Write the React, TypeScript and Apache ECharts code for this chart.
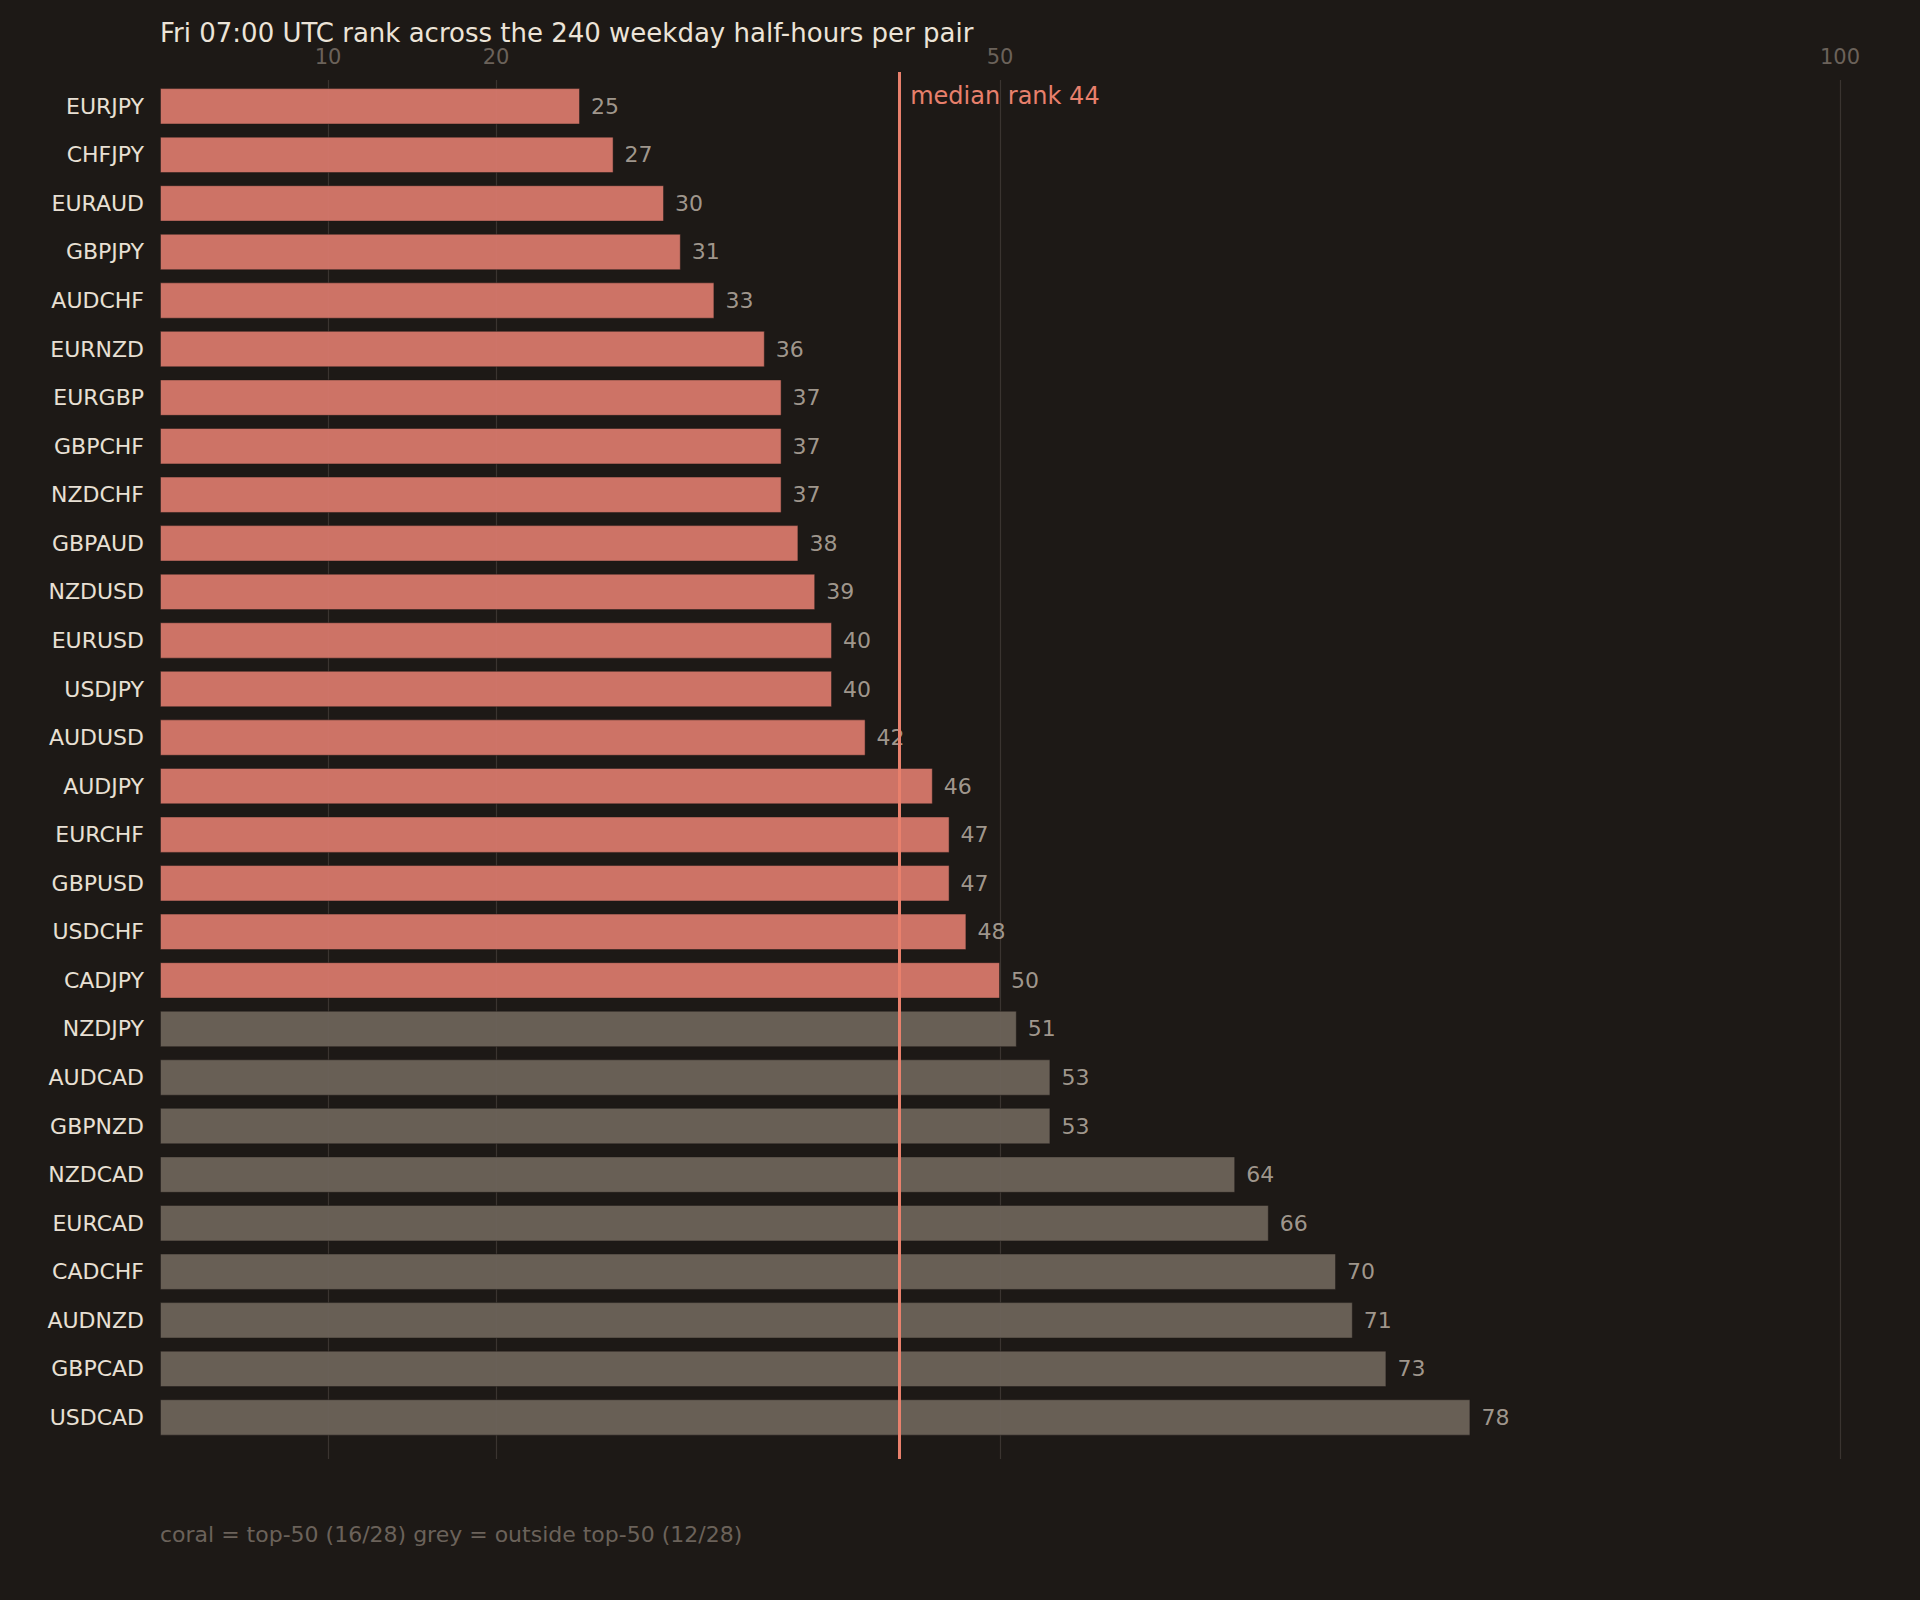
import React, { useEffect, useRef } from "react";
import * as echarts from "echarts";

const pairs = [
  "EURJPY", "CHFJPY", "EURAUD", "GBPJPY", "AUDCHF", "EURNZD", "EURGBP",
  "GBPCHF", "NZDCHF", "GBPAUD", "NZDUSD", "EURUSD", "USDJPY", "AUDUSD",
  "AUDJPY", "EURCHF", "GBPUSD", "USDCHF", "CADJPY", "NZDJPY", "AUDCAD",
  "GBPNZD", "NZDCAD", "EURCAD", "CADCHF", "AUDNZD", "GBPCAD", "USDCAD",
];
const ranks = [
  25, 27, 30, 31, 33, 36, 37, 37, 37, 38, 39, 40, 40, 42,
  46, 47, 47, 48, 50, 51, 53, 53, 64, 66, 70, 71, 73, 78,
];
const topN = 50;
const medianRank = 44;
const tickValues = [10, 20, 50, 100];
const titleText = "Fri 07:00 UTC rank across the 240 weekday half-hours per pair";
const footerText = "coral = top-50 (16/28) grey = outside top-50 (12/28)";

const BG = "#1d1916";
const CORAL = "#d4776a";
const GREY = "#6b6258";
const FONT = "DejaVu Sans";

export default function App() {
  const ref = useRef<HTMLDivElement>(null);
  useEffect(() => {
    const chart = echarts.init(ref.current!, null, { renderer: "svg" });
    const hiddenX = (gi: number) => ({
      type: "value", gridIndex: gi, min: 0, max: 100, show: false,
    });
    chart.setOption({
      animation: false,
      backgroundColor: BG,
      textStyle: { fontFamily: FONT },
      title: [
        {
          text: titleText, left: 160, top: 20, padding: 0,
          textStyle: { color: "#ece4d8", fontSize: 26, fontWeight: "normal", fontFamily: FONT },
        },
        {
          text: footerText, left: 160, top: 1523, padding: 0,
          textStyle: { color: "#6b625a", fontSize: 22, fontWeight: "normal", fontFamily: FONT },
        },
      ],
      grid: [
        { left: 160, right: 80, top: 72, bottom: 141 },
        { left: 160, right: 80, top: 80, bottom: 141 },
        { left: 160, right: 80, top: 82, height: 1359.7 },
      ],
      xAxis: [
        hiddenX(0),
        {
          type: "value", gridIndex: 1, min: 0, max: 100, position: "top",
          axisLine: { show: false },
          axisTick: { show: false, customValues: tickValues },
          axisLabel: {
            customValues: tickValues, color: "#6b625a", fontSize: 21,
            fontFamily: FONT, margin: 13,
          },
          splitLine: { show: true, lineStyle: { color: "#3a3430", width: 1.2 } },
        },
        hiddenX(2),
      ],
      yAxis: [
        { type: "value", gridIndex: 0, min: 0, max: 1, show: false },
        { type: "value", gridIndex: 1, min: 0, max: 1, show: false },
        {
          type: "category", gridIndex: 2, data: pairs, inverse: true,
          axisLine: { show: false }, axisTick: { show: false },
          axisLabel: { color: "#e8e0d4", fontSize: 22, fontFamily: FONT, margin: 16 },
          splitLine: { show: false },
        },
      ],
      series: [
        {
          type: "bar", xAxisIndex: 2, yAxisIndex: 2, z: 2,
          barCategoryGap: "25%",
          data: ranks.map((r) => ({
            value: r,
            itemStyle: { color: r <= topN ? CORAL : GREY },
          })),
          itemStyle: { opacity: 0.96, borderColor: "rgba(29,25,22,0.5)", borderWidth: 1 },
          label: {
            show: true, position: "right", distance: 11,
            color: "#a89f94", fontSize: 22, fontFamily: FONT,
          },
          silent: true,
        },
        {
          type: "scatter", xAxisIndex: 0, yAxisIndex: 0, z: 5,
          symbolSize: 0,
          itemStyle: { opacity: 1, color: "#e8806c" },
          data: [[medianRank, 1]],
          label: {
            show: true, position: "right", distance: 11, offset: [0, 24],
            formatter: () => `median rank ${medianRank}`,
            color: "#e8806c", fontSize: 24, fontFamily: FONT, opacity: 1,
          },
          markLine: {
            silent: true, symbol: "none",
            lineStyle: { color: "#e8806c", width: 3, type: "solid", opacity: 1 },
            label: { show: false },
            data: [{ xAxis: medianRank }],
          },
          silent: true,
        },
      ],
    });
    return () => chart.dispose();
  }, []);
  return (
    <div
      ref={ref}
      style={{ position: "fixed", left: 0, top: 0, width: 1920, height: 1600 }}
    />
  );
}
